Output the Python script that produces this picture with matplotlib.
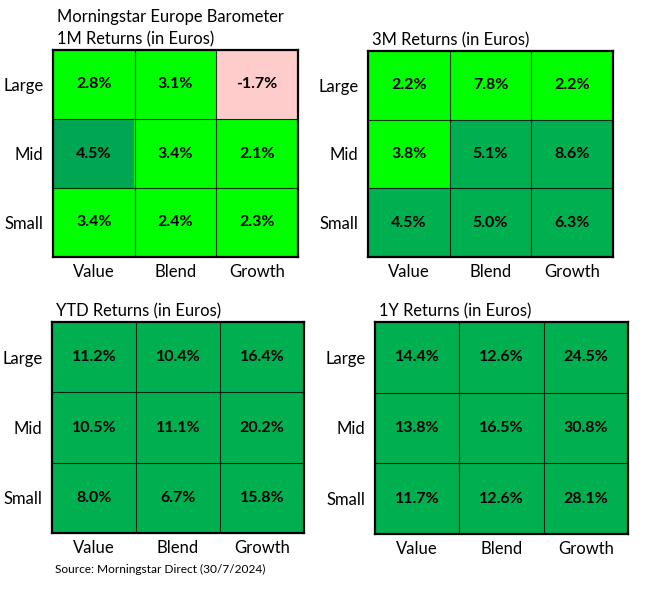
import matplotlib.pyplot as plt
import numpy as np
from matplotlib.colors import ListedColormap

plt.rcParams["font.family"] = ["Lato", "DejaVu Sans"]

ROWS = ["Large", "Mid", "Small"]
COLS = ["Value", "Blend", "Growth"]

TITLES = [
    "1M Returns (in Euros)",
    "3M Returns (in Euros)",
    "YTD Returns (in Euros)",
    "1Y Returns (in Euros)",
]

RET_1M = [[2.8, 3.1, -1.7], [4.5, 3.4, 2.1], [3.4, 2.4, 2.3]]
RET_3M = [[2.2, 7.8, 2.2], [3.8, 5.1, 8.6], [4.5, 5.0, 6.3]]
RET_YTD = [[11.2, 10.4, 16.4], [10.5, 11.1, 20.2], [8.0, 6.7, 15.8]]
RET_1Y = [[14.4, 12.6, 24.5], [13.8, 16.5, 30.8], [11.7, 12.6, 28.1]]

# shading tier used by the source table: 0 negative, 1 light green, 2 dark green, 3 darkest
TIER_1M = [[1, 1, 0], [3, 1, 1], [1, 1, 1]]
TIER_3M = [[1, 1, 1], [1, 2, 2], [2, 2, 2]]
TIER_YTD = [[2, 2, 2], [2, 2, 2], [2, 2, 2]]
TIER_1Y = [[2, 2, 2], [2, 2, 2], [2, 2, 2]]

SUPTITLE = "Morningstar Europe Barometer"
SOURCE = "Source: Morningstar Direct (30/7/2024)"

TIER_COLORS = ListedColormap(["#ffcccc", "#00ff00", "#00b050", "#00a651"])

W, H = 656, 594
# grid boxes in pixels: left, top, right, bottom
BOXES = [
    (53, 50, 298, 257),
    (368, 51, 613, 257),
    (52, 322, 304, 533),
    (375, 322, 628, 534),
]


def draw_grid(ax, values, tiers, title):
    tiers = np.array(tiers)
    ax.imshow(tiers, cmap=TIER_COLORS, vmin=-0.5, vmax=3.5, aspect="auto",
              interpolation="nearest")
    for i in range(3):
        for j in range(3):
            ax.text(j, i, f"{values[i][j]:.1f}%", ha="center", va="center",
                    fontsize=11.5, fontweight="bold", color="black")
    for k in (0.5, 1.5):
        ax.axhline(k, color="black", lw=0.8, alpha=0.8)
        ax.axvline(k, color="black", lw=0.8, alpha=0.8)
    ax.set_xticks(range(3), COLS)
    ax.set_yticks(range(3), ROWS)
    ax.tick_params(length=0, labelsize=12, pad=5)
    ax.tick_params(axis="y", pad=7)
    for s in ax.spines.values():
        s.set_linewidth(1.6)
        s.set_color("black")
    ax.annotate(title, xy=(0, 1), xycoords="axes fraction", xytext=(4, 6),
                textcoords="offset pixels", ha="left", va="baseline",
                fontsize=11.9)


fig = plt.figure(figsize=(W / 100, H / 100), dpi=100)
data = [(RET_1M, TIER_1M), (RET_3M, TIER_3M), (RET_YTD, TIER_YTD), (RET_1Y, TIER_1Y)]
for (l, t, r, b), (vals, tiers), title in zip(BOXES, data, TITLES):
    ax = fig.add_axes([l / W, 1 - b / H, (r - l) / W, (b - t) / H])
    draw_grid(ax, vals, tiers, title)

fig.text(57 / W, 1 - 22 / H, SUPTITLE, ha="left", va="baseline", fontsize=11.9)
fig.text(55 / W, 1 - 569 / H, SOURCE, ha="left", va="center", fontsize=8.6)

fig.savefig("out.png", dpi=100)
